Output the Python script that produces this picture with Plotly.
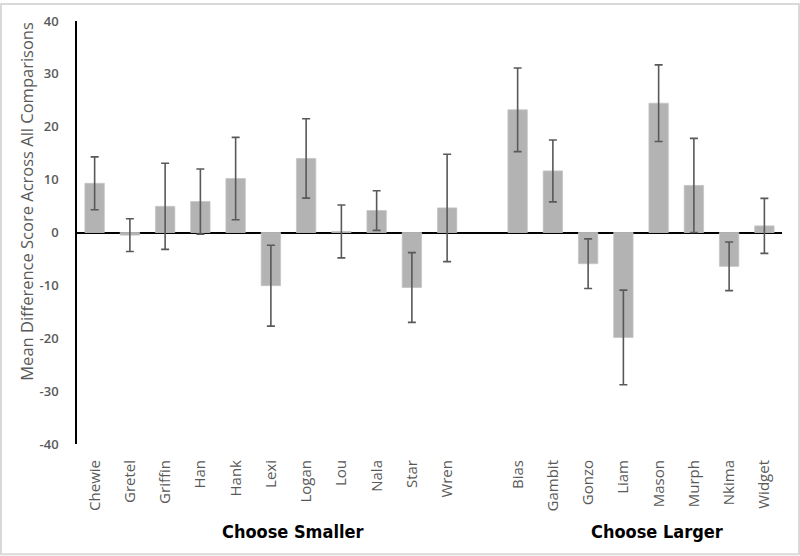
import plotly.graph_objects as go

smaller_names = ["Chewie", "Gretel", "Griffin", "Han", "Hank", "Lexi", "Logan", "Lou", "Nala", "Star", "Wren"]
smaller_means = [9.3, -0.5, 4.95, 5.85, 10.2, -10.05, 14.0, 0.2, 4.15, -10.4, 4.65]
smaller_err = [5.0, 3.1, 8.15, 6.15, 7.8, 7.65, 7.5, 5.0, 3.75, 6.6, 10.15]

larger_names = ["Bias", "Gambit", "Gonzo", "Liam", "Mason", "Murph", "Nkima", "Widget"]
larger_means = [23.2, 11.65, -5.9, -19.85, 24.45, 8.9, -6.4, 1.25]
larger_err = [7.9, 5.85, 4.7, 8.95, 7.25, 8.9, 4.6, 5.2]

group_labels = ["Choose Smaller", "Choose Larger"]
y_ticks = [-40, -30, -20, -10, 0, 10, 20, 30, 40]
y_tick_labels = ["-40", "-30", "-20", "-10", "0", "10", "20", "30", "40"]

spacer = " "
category_order = smaller_names + [spacer] + larger_names

W, H = 800, 556
ML, MR, MT, MB = 77, 18, 18, 112
pw, ph = W - ML - MR, H - MT - MB

bar_color = "#b3b3b3"
err_style = dict(type="data", thickness=1.6, width=4, color="#595959")

fig = go.Figure()
for names, means, errs in [(smaller_names, smaller_means, smaller_err),
                           (larger_names, larger_means, larger_err)]:
    fig.add_trace(go.Bar(
        x=names, y=means,
        marker=dict(color=bar_color, line=dict(color="#c4c4c4", width=0.8)),
        error_y=dict(array=errs, **err_style),
        width=0.55, showlegend=False,
    ))

font_main = "Open Sans, Noto Sans, sans-serif"

fig.update_layout(
    width=W, height=H,
    margin=dict(l=ML, r=MR, t=MT, b=MB, pad=0),
    plot_bgcolor="white", paper_bgcolor="white",
    bargap=0.45,
    xaxis=dict(
        type="category", categoryorder="array", categoryarray=category_order,
        range=[-0.5, len(category_order) - 0.5],
        showline=False, showgrid=False, zeroline=False, ticks="",
        tickangle=-90, ticklabelstandoff=12,
        tickfont=dict(family=font_main, size=15, color="#595959"),
    ),
    yaxis=dict(
        range=[-40, 40], tickvals=y_ticks, ticktext=y_tick_labels,
        showgrid=False, zeroline=True, zerolinecolor="black", zerolinewidth=2,
        showline=True, linecolor="black", linewidth=1.5, ticks="",
        ticklabelstandoff=14,
        tickfont=dict(family=font_main, size=13, color="#595959", weight=600),
    ),
)

fig.add_annotation(
    text="Mean Difference Score Across All Comparisons",
    xref="paper", yref="paper",
    x=(27 - ML) / pw, y=(H - MB - 200) / ph,
    textangle=-90, showarrow=False,
    font=dict(family=font_main, size=16.5, color="#595959"),
    xanchor="center", yanchor="middle",
)

group_x = [292, 657]
for label, gx in zip(group_labels, group_x):
    fig.add_annotation(
        text="<b>" + label + "</b>",
        xref="paper", yref="paper",
        x=(gx - ML) / pw, y=-(532 - (H - MB)) / ph,
        showarrow=False, xanchor="center", yanchor="middle",
        font=dict(family="Liberation Sans Narrow, DejaVu Sans Condensed, sans-serif", size=18, color="black"),
    )

# light frame around the whole picture
fig.add_shape(
    type="rect", xref="paper", yref="paper",
    x0=(1 - ML) / pw, x1=(W - 1 - ML) / pw,
    y0=-(H - 1 - (H - MB)) / ph, y1=(H - 1 - MB) / ph,
    line=dict(color="#d9d9d9", width=2), layer="below",
)

fig.write_html(
    "out.html",
    config={"displayModeBar": False},
    post_script="document.body.style.margin='0px';document.body.style.overflow='hidden';",
)
